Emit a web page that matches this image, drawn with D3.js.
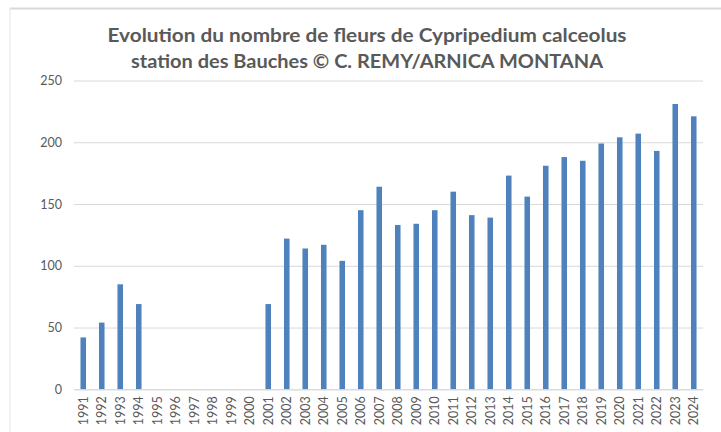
<!DOCTYPE html>
<html>
<head>
<meta charset="utf-8">
<script src="https://cdnjs.cloudflare.com/ajax/libs/d3/7.8.5/d3.min.js"></script>
<style>
  html, body { margin: 0; padding: 0; background: #fff; }
  svg text { font-family: Lato, "Open Sans", sans-serif; }
</style>
</head>
<body>
<svg id="chart" width="721" height="432"></svg>
<script>
(function() {
  var years = ["1991", "1992", "1993", "1994", "1995", "1996", "1997", "1998", "1999", "2000",
    "2001", "2002", "2003", "2004", "2005", "2006", "2007", "2008", "2009", "2010",
    "2011", "2012", "2013", "2014", "2015", "2016", "2017", "2018", "2019", "2020",
    "2021", "2022", "2023", "2024"];
  var flowers = [42, 54, 85, 69, null, null, null, null, null, null,
    69, 122, 114, 117, 104, 145, 164, 133, 134, 145,
    160, 141, 139, 173, 156, 181, 188, 185, 199, 204,
    207, 193, 231, 221];
  var yTicks = [0, 50, 100, 150, 200, 250];
  var titleLines = ["Evolution du nombre de fleurs de Cypripedium calceolus",
    "station des Bauches \u00a9 C. REMY/ARNICA MONTANA"];

  var PLOT = { LEFT: 74, RIGHT: 703, TOP: 80.5, BOTTOM: 389.3 };
  var GRID = "#d9d9d9", TEXT = "#595959", BAR = "#4f81bd";

  var svg = d3.select("svg#chart");

  // frame of the chart object
  svg.append("line").attr("x1", 10).attr("x2", 721).attr("y1", 8.5).attr("y2", 8.5)
    .style("stroke", GRID).style("stroke-width", 2);
  svg.append("line").attr("x1", 10).attr("x2", 10).attr("y1", 8).attr("y2", 432)
    .style("stroke", "#e6e6e6").style("stroke-width", 1);

  var x = d3.scaleBand().domain(years).range([PLOT.LEFT, PLOT.RIGHT])
    .paddingInner(0.7).paddingOuter(0.35);
  var y = d3.scaleLinear().domain([0, 250]).range([PLOT.BOTTOM, PLOT.TOP]);

  // title
  svg.selectAll("text.title").data(titleLines).enter().append("text")
    .classed("title", true)
    .attr("x", 367).attr("y", function(d, i) { return 42 + i * 26; })
    .attr("text-anchor", "middle")
    .attr("textLength", function(d, i) { return i === 0 ? 519 : 472; })
    .attr("lengthAdjust", "spacingAndGlyphs")
    .style("font-size", "19px").style("font-weight", "bold").style("fill", TEXT)
    .text(function(d) { return d; });

  // gridlines + y labels
  var yAxis = d3.axisLeft(y).tickValues(yTicks).tickSize(-(PLOT.RIGHT - PLOT.LEFT)).tickPadding(12);
  var gy = svg.append("g").attr("transform", "translate(" + PLOT.LEFT + ",0)").call(yAxis);
  gy.select(".domain").remove();
  gy.selectAll(".tick line").style("stroke", GRID).style("stroke-width", 1);
  gy.selectAll(".tick text").style("fill", TEXT).style("font-size", "12.5px")
    .style("font-family", "Lato, 'Open Sans', sans-serif");

  // bars
  svg.selectAll("rect.bar").data(years.map(function(yr, i) { return { year: yr, value: flowers[i] }; })
      .filter(function(d) { return d.value != null; }))
    .enter().append("rect").classed("bar", true)
    .attr("x", function(d) { return x(d.year); })
    .attr("width", x.bandwidth())
    .attr("y", function(d) { return y(d.value); })
    .attr("height", function(d) { return y(0) - y(d.value); })
    .style("fill", BAR);

  // x axis
  var xAxis = d3.axisBottom(x).tickSize(0).tickPadding(0);
  var gx = svg.append("g").attr("transform", "translate(0," + PLOT.BOTTOM + ")").call(xAxis);
  gx.select(".domain").style("stroke", GRID);
  gx.selectAll(".tick text")
    .attr("transform", "rotate(-90)")
    .attr("x", -7).attr("y", 0).attr("dy", "0.35em")
    .style("text-anchor", "end")
    .style("fill", TEXT).style("font-size", "12.5px")
    .style("font-family", "Lato, 'Open Sans', sans-serif");
}).call(this);
</script>
</body>
</html>
